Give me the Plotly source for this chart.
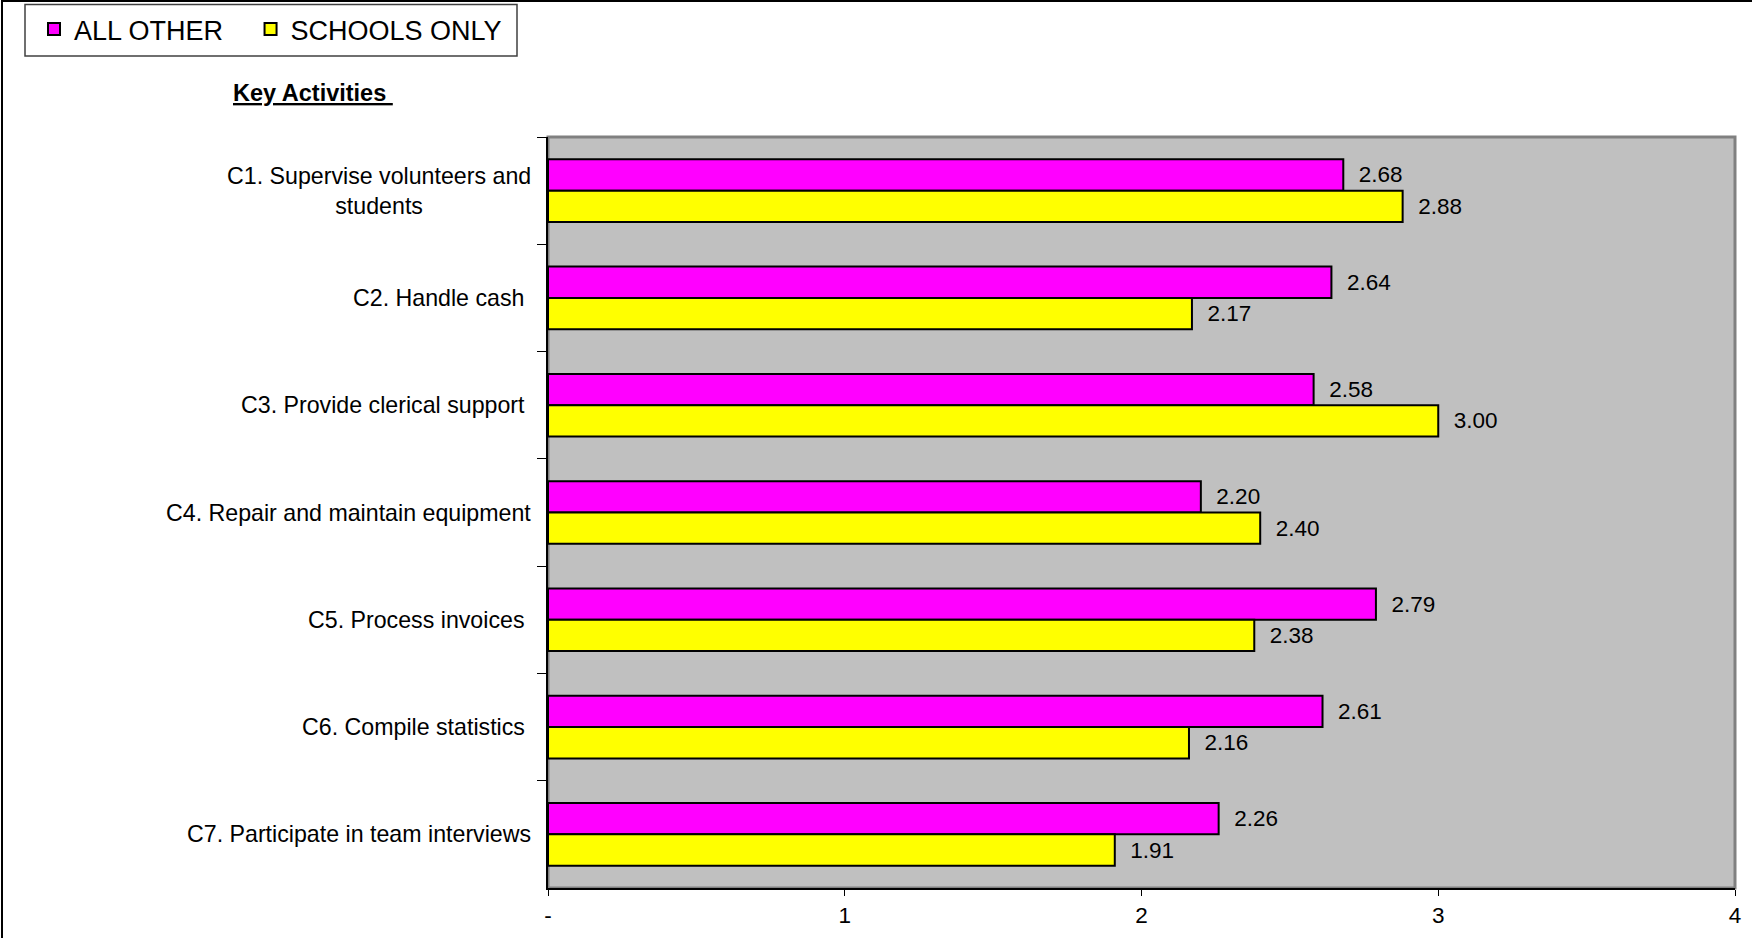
import plotly.graph_objects as go

# Key activity categories (top to bottom)
categories = [
    "C1. Supervise volunteers and<br>students",
    "C2. Handle cash\u00a0",
    "C3. Provide clerical support\u00a0",
    "C4. Repair and maintain equipment",
    "C5. Process invoices\u00a0",
    "C6. Compile statistics\u00a0",
    "C7. Participate in team interviews",
]

all_other = [2.68, 2.64, 2.58, 2.20, 2.79, 2.61, 2.26]
schools_only = [2.88, 2.17, 3.00, 2.40, 2.38, 2.16, 1.91]

series_names = ["ALL OTHER", "SCHOOLS ONLY"]

x_tick_vals = [0, 1, 2, 3, 4]
x_tick_text = ["-", "1", "2", "3", "4"]

FONT = "Liberation Sans, Arial, sans-serif"
W, H = 1752, 938
ML, MR, MT, MB = 548, 17, 137, 50
PW, PH = W - ML - MR, H - MT - MB


def px_to_paper_x(px):
    return (px - ML) / PW


def px_to_paper_y(py):
    return 1 + (MT - py) / PH


pad = "\u00a0\u00a0"

fig = go.Figure()
fig.add_trace(go.Bar(
    name=series_names[0] + "\u00a0\u00a0\u00a0", y=categories, x=all_other, orientation="h",
    marker=dict(color="#FF00FF", line=dict(color="black", width=2)),
    text=[pad + f"{v:.2f}" for v in all_other], textposition="outside",
    textfont=dict(family=FONT, size=22.5, color="black"),
    constraintext="none", cliponaxis=False,
))
fig.add_trace(go.Bar(
    name=series_names[1], y=categories, x=schools_only, orientation="h",
    marker=dict(color="#FFFF00", line=dict(color="black", width=2)),
    text=[pad + f"{v:.2f}" for v in schools_only], textposition="outside",
    textfont=dict(family=FONT, size=22.5, color="black"),
    constraintext="none", cliponaxis=False,
))

# Category labels, centred line by line and right-aligned against the axis
annotations = [
    dict(x=0, xref="paper", y=c, yref="y", text=c, showarrow=False,
         xanchor="right", yanchor="middle", align="center", xshift=-15,
         font=dict(family=FONT, size=23.2, color="black"))
    for c in categories
]
annotations.append(dict(
    x=px_to_paper_x(313), xref="paper", y=px_to_paper_y(93), yref="paper",
    text="<b><u>Key Activities\u00a0</u></b>", showarrow=False,
    xanchor="center", yanchor="middle",
    font=dict(family=FONT, size=23.5, color="black"),
))

shapes = [
    # plot-area frame (grey shadow on top and right)
    dict(type="rect", xref="paper", yref="paper", x0=0, x1=1, y0=0, y1=1,
         line=dict(color="#808080", width=3), layer="below"),
    # outer chart frame
    dict(type="rect", xref="paper", yref="paper",
         x0=px_to_paper_x(2), x1=px_to_paper_x(W + 20),
         y0=px_to_paper_y(H + 20), y1=px_to_paper_y(1),
         line=dict(color="black", width=2), layer="above"),
    # legend box
    dict(type="rect", xref="paper", yref="paper",
         x0=px_to_paper_x(25), x1=px_to_paper_x(517),
         y0=px_to_paper_y(56), y1=px_to_paper_y(4.5),
         line=dict(color="#404040", width=1.5), layer="above"),
]

fig.update_layout(
    width=W, height=H,
    margin=dict(l=ML, r=MR, t=MT, b=MB, pad=0, autoexpand=False),
    paper_bgcolor="white", plot_bgcolor="#C0C0C0",
    barmode="group", bargap=0.416, bargroupgap=0,
    font=dict(family=FONT, size=22, color="black"),
    showlegend=True,
    legend=dict(
        orientation="h", x=px_to_paper_x(34), y=px_to_paper_y(5),
        xanchor="left", yanchor="top",
        bgcolor="rgba(0,0,0,0)", borderwidth=0,
        font=dict(family=FONT, size=27, color="black"),
    ),
    annotations=annotations,
    shapes=shapes,
)
fig.update_xaxes(
    range=[0, 4], tickvals=x_tick_vals, ticktext=x_tick_text,
    showgrid=False, zeroline=False, automargin=False,
    showline=True, linecolor="black", linewidth=2,
    ticks="outside", ticklen=6, tickcolor="black", tickwidth=1,
    ticklabelstandoff=0,
    tickfont=dict(family=FONT, size=22.5, color="black"),
)
fig.update_yaxes(
    autorange="reversed", showgrid=False, zeroline=False, automargin=False,
    showline=True, linecolor="black", linewidth=2,
    ticks="outside", ticklen=9, tickcolor="black", tickwidth=1,
    tickson="boundaries", showticklabels=False,
)

fig.write_html("out.html")
